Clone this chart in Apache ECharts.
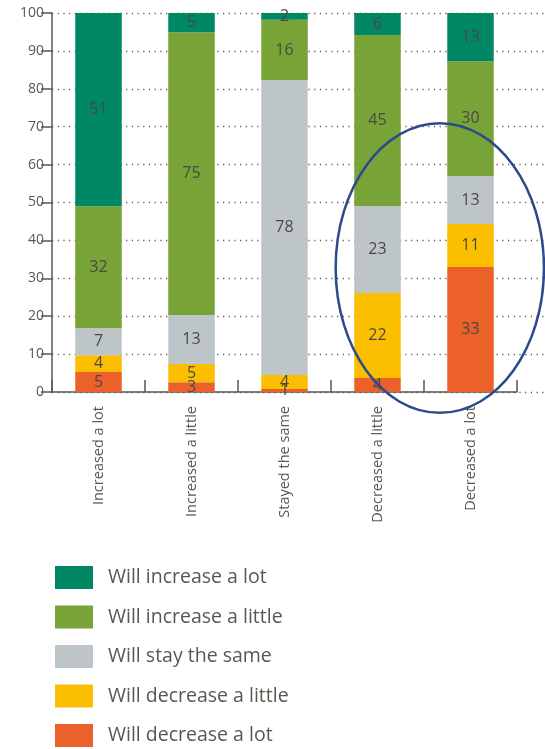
<!DOCTYPE html>
<html><head><meta charset="utf-8">
<script src="https://cdn.jsdelivr.net/npm/echarts@6/dist/echarts.min.js"></script>
<style>html,body{margin:0;padding:0;background:#fff}#c{width:545px;height:749px}</style>
</head><body><div id="c"></div>
<script>
const categories = ['Increased a lot','Increased a little','Stayed the same','Decreased a little','Decreased a lot'];
const willDecreaseLot    = [5.3, 2.6, 0.8, 3.7, 33.0];
const willDecreaseLittle = [4.4, 4.8, 3.7, 22.4, 11.3];
const willStaySame       = [7.1, 12.9, 77.8, 23.0, 12.7];
const willIncreaseLittle = [32.2, 74.6, 15.9, 45.1, 30.3];
const willIncreaseLot    = [51.0, 5.1, 1.8, 5.8, 12.7];
const seriesNames = ['Will decrease a lot','Will decrease a little','Will stay the same','Will increase a little','Will increase a lot'];
const legendOrder = ['Will increase a lot','Will increase a little','Will stay the same','Will decrease a little','Will decrease a lot'];
const yTicks = [0,10,20,30,40,50,60,70,80,90,100];

const colors = ['#ec6029','#fbbf00','#bec5c8','#78a337','#008763'];
const dataSets = [willDecreaseLot, willDecreaseLittle, willStaySame, willIncreaseLittle, willIncreaseLot];
const FONT = '"Open Sans", "Noto Sans", sans-serif';
const txt = '#5b5750';

const chart = echarts.init(document.getElementById('c'), null, {renderer:'canvas'});
const series = dataSets.map((d,i)=>({
  name: seriesNames[i], type:'bar', stack:'all', barWidth:'50%',
  xAxisIndex:0, yAxisIndex:0,
  itemStyle:{color:colors[i]},
  label:{show:true, position:'inside', color:'#4a4a44', fontSize:16, fontFamily:FONT,
    formatter:p=>Math.round(p.value)},
  data:d
}));
series.push({type:'line', xAxisIndex:1, yAxisIndex:1, data:[], silent:true});

chart.setOption({
  animation:false,
  color:colors,
  grid:[
    {left:52, top:13, width:465, height:379, containLabel:false},
    {left:52, top:13, right:0, height:379, containLabel:false, z:0}
  ],
  legend:{
    data:legendOrder, orient:'vertical', left:55, top:566, height:200, padding:0,
    itemWidth:38, itemHeight:23, itemGap:16.5, icon:'rect',
    textStyle:{fontSize:19.5, color:txt, fontFamily:FONT, padding:[0,0,0,10]},
    selectedMode:false
  },
  xAxis:[
    {type:'category', data:categories, gridIndex:0,
     axisLine:{lineStyle:{color:'#5b5750', width:1.5}},
     axisTick:{show:true, inside:true, length:12, alignWithLabel:false, lineStyle:{color:'#5b5750', width:1.5}},
     axisLabel:{rotate:90, margin:14, fontSize:14.5, color:txt, fontFamily:FONT}},
    {type:'value', gridIndex:1, show:false, min:0, max:1}
  ],
  yAxis:[
    {type:'value', gridIndex:0, min:0, max:100, interval:10,
     axisLine:{show:true, lineStyle:{color:'#5b5750', width:1.5}},
     axisTick:{show:true, length:11, lineStyle:{color:'#5b5750', width:1.5}},
     axisLabel:{fontSize:14, color:txt, fontFamily:FONT, margin:8, formatter:v=>yTicks.includes(v)?String(v):''},
     splitLine:{show:false}, z:3},
    {type:'value', gridIndex:1, min:0, max:100, interval:10,
     axisLine:{show:false}, axisTick:{show:false}, axisLabel:{show:false},
     splitLine:{show:true, lineStyle:{type:[1.2,4.5], color:'#5b5750', width:1.3}}}
  ],
  series:series
});

// annotation ellipse around the "Decreased a little" bar, placed via axis conversion
const p3 = chart.convertToPixel({xAxisIndex:0,yAxisIndex:0},[3, 32.7]);
const p4 = chart.convertToPixel({xAxisIndex:0,yAxisIndex:0},[4, 32.7]);
const pTop = chart.convertToPixel({xAxisIndex:0,yAxisIndex:0},[3, 70.9]);
const catW = p4[0]-p3[0];
const cx = p3[0] + 0.67*catW, cy = p3[1];
chart.setOption({graphic:[{type:'ellipse', shape:{cx:cx, cy:cy, rx:1.12*catW, ry:cy-pTop[1]},
  style:{fill:'none', stroke:'#2b4b8c', lineWidth:2.5}, z:100, silent:true}]});
</script></body></html>
